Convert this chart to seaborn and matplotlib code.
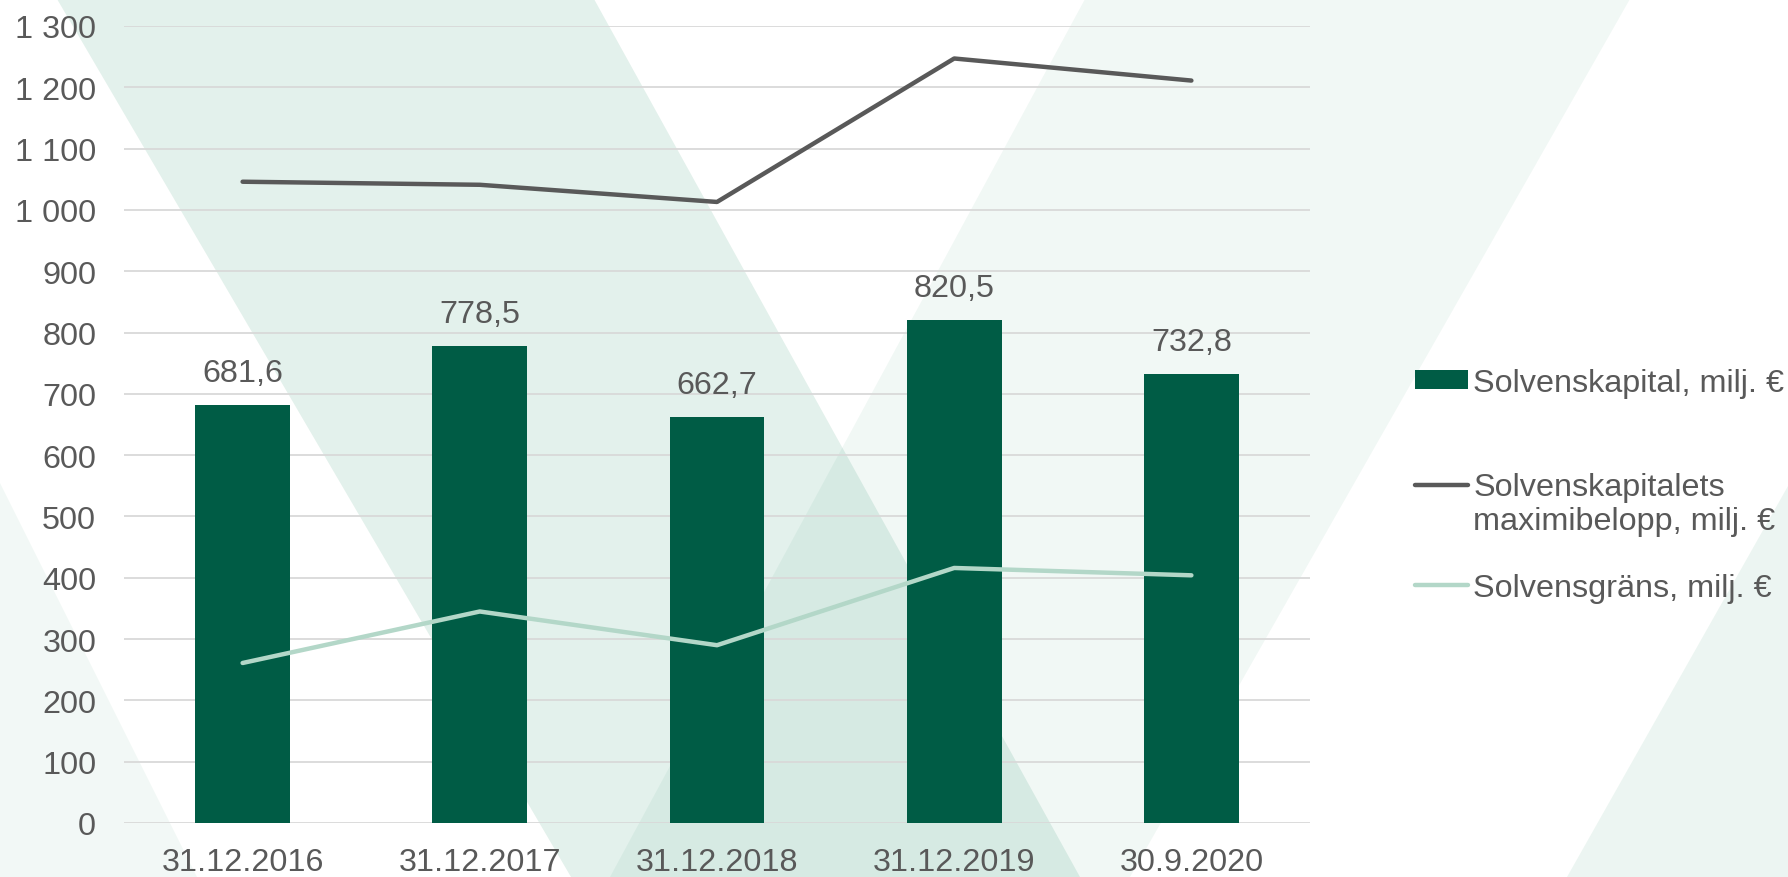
import numpy as np
import pandas as pd
import seaborn as sns
import matplotlib.pyplot as plt
from matplotlib.patches import Polygon
from matplotlib.ticker import FuncFormatter, MultipleLocator

dates = ['31.12.2016', '31.12.2017', '31.12.2018', '31.12.2019', '30.9.2020']
solvenskapital = [681.6, 778.5, 662.7, 820.5, 732.8]
maximibelopp = [1046, 1041, 1013, 1247, 1211]
solvensgrans = [261, 345, 290, 416, 404]

lbl_bar = 'Solvenskapital, milj. €'
lbl_max = 'Solvenskapitalets\nmaximibelopp, milj. €'
lbl_min = 'Solvensgräns, milj. €'

sns.set_style('white')
plt.rcParams['font.family'] = ['Liberation Sans', 'DejaVu Sans']
grey = '#595959'
fs = 23.3

df = pd.DataFrame({'datum': dates, 'kapital': solvenskapital,
                   'max': maximibelopp, 'grans': solvensgrans})

W, H = 1788, 878
fig = plt.figure(figsize=(W / 100, H / 100), dpi=100)
fig.patch.set_facecolor('white')

# light green diagonal background shapes (pixel corners, y from top)
bg_green = (0, 128 / 255, 82 / 255)
shapes = [
    ([(57, 0), (594, 0), (1080, 878), (571, 878)], 0.11),
    ([(1085, 0), (1630, 0), (1130, 878), (610, 878)], 0.055),
    ([(0, 484), (197, 878), (0, 878)], 0.05),
    ([(1788, 487), (1567, 878), (1788, 878)], 0.075),
]
for pts, a in shapes:
    xy = [(x / W, 1 - y / H) for x, y in pts]
    fig.add_artist(Polygon(xy, closed=True, transform=fig.transFigure,
                           facecolor=bg_green, alpha=a, edgecolor='none', zorder=-5))

ax = fig.add_axes([124 / W, 1 - 824 / H, (1310 - 124) / W, (824 - 27) / H])
ax.set_facecolor('none')

sns.barplot(data=df, x='datum', y='kapital', color='#005c45', width=0.4,
            saturation=1, label=lbl_bar, linewidth=0, edgecolor='none', ax=ax)
sns.lineplot(data=df, x='datum', y='max', color='#595959', lw=3.2,
             label=lbl_max, ax=ax)
sns.lineplot(data=df, x='datum', y='grans', color='#b3d7c8', lw=3.2,
             label=lbl_min, ax=ax)

ax.set_xlim(-0.5, 4.5)
ax.set_ylim(0, 1300)
ax.yaxis.set_major_locator(MultipleLocator(100))
ax.yaxis.set_major_formatter(FuncFormatter(lambda v, p: f'{int(v):,}'.replace(',', ' ')))
ax.yaxis.grid(True, color='#d9d9d9', lw=1.3)
ax.set_axisbelow(True)
for s in ax.spines.values():
    s.set_visible(False)
ax.set_xlabel('')
ax.set_ylabel('')
ax.tick_params(axis='both', length=0, labelsize=fs, labelcolor=grey)
ax.tick_params(axis='y', pad=20)
ax.tick_params(axis='x', pad=17)

ax.bar_label(ax.containers[0],
             labels=[f'{v:.1f}'.replace('.', ',') for v in solvenskapital],
             padding=12, fontsize=fs, color=grey)

handles, labels = ax.get_legend_handles_labels()
hmap = dict(zip(labels, handles))
if ax.get_legend():
    ax.get_legend().remove()

leg_kw = dict(loc='center left', frameon=False, fontsize=fs, labelcolor=grey,
              handlelength=1.65, handletextpad=0.15, borderpad=0, borderaxespad=0)
fig.legend([hmap[lbl_bar]], [lbl_bar], bbox_to_anchor=(1415 / W, 1 - 384 / H),
           handleheight=0.5, **leg_kw)
leg_max = fig.legend([hmap[lbl_max]], [lbl_max], bbox_to_anchor=(1415 / W, 1 - 505 / H),
                     **leg_kw)
fig.legend([hmap[lbl_min]], [lbl_min], bbox_to_anchor=(1415 / W, 1 - 589 / H), **leg_kw)

# put the line handle next to the first text line, as in the original
h = leg_max.legend_handles[0]
h.set_ydata(np.asarray(h.get_ydata()) + 0.6 * fs)

fig.savefig('out.png', dpi=100, facecolor='white')
